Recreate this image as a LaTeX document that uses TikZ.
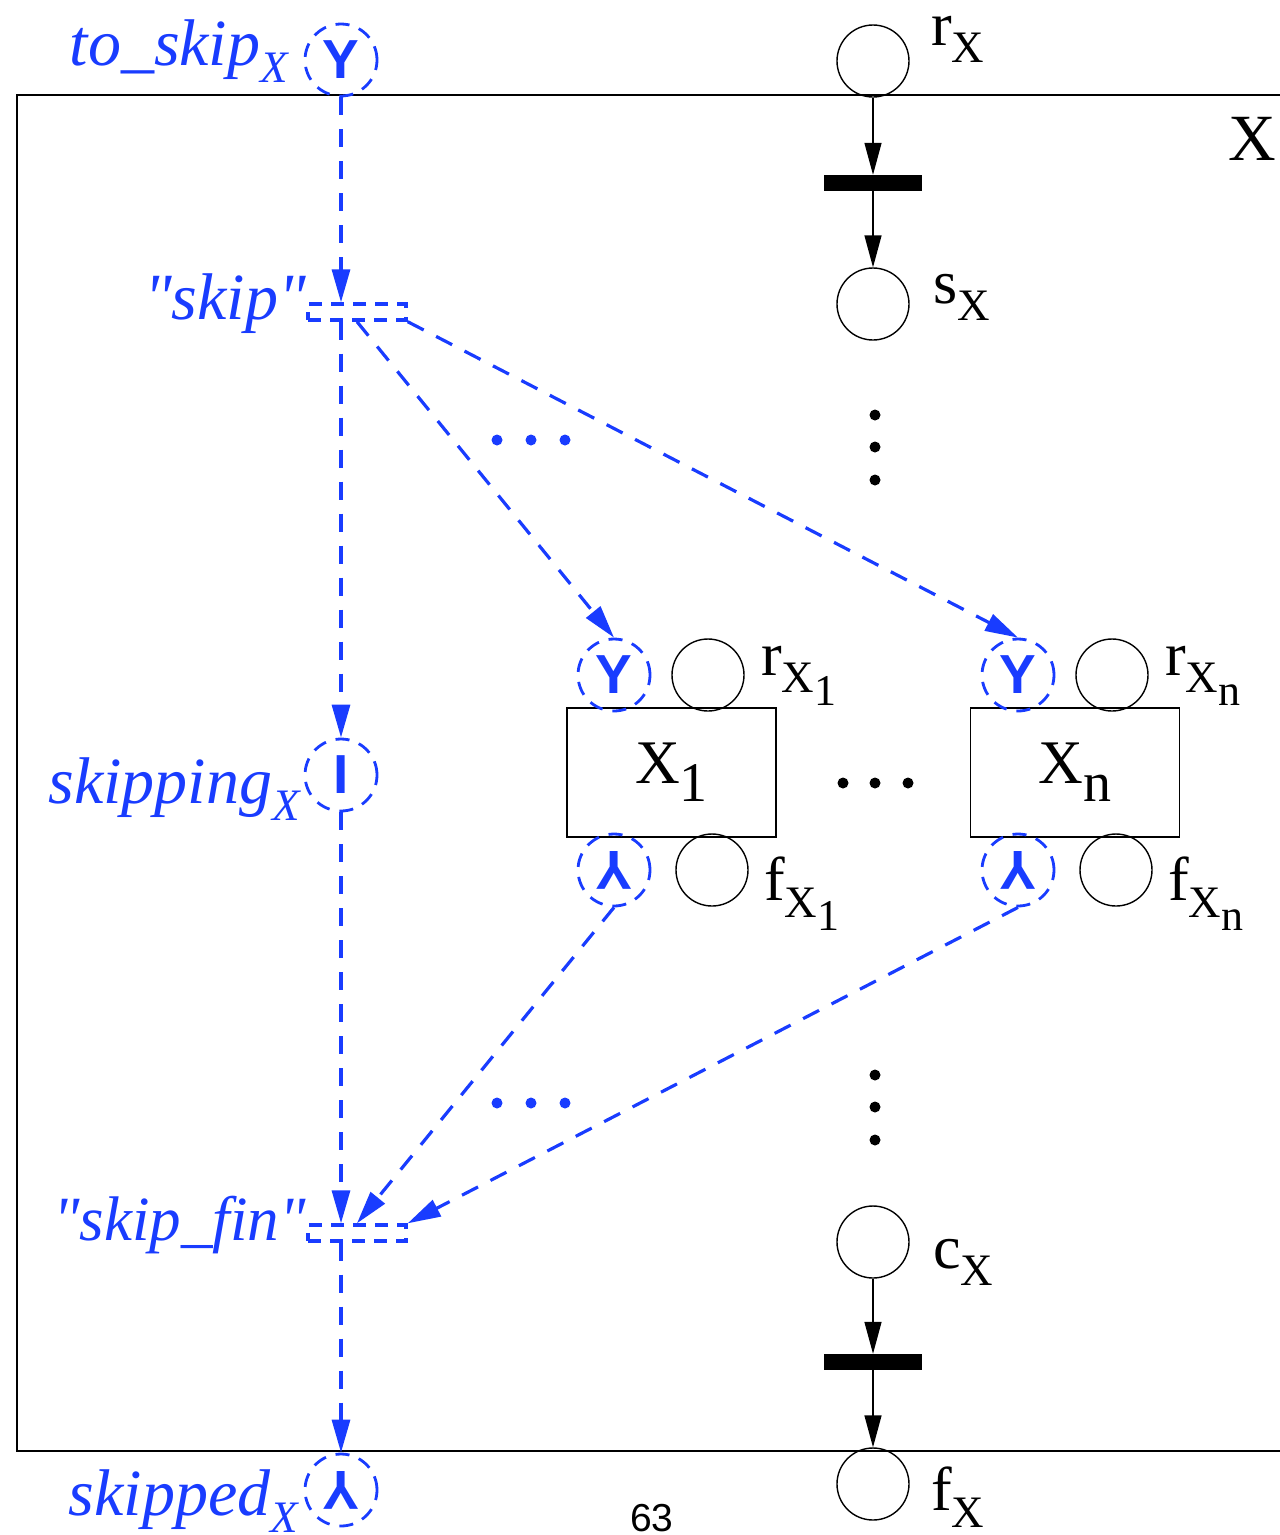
\documentclass[tikz,border=0pt]{standalone}
\usepackage{fontspec}
\setmainfont{Liberation Serif}[Ligatures=TeXOff]
\newfontfamily\symfont{Liberation Sans}
\newfontfamily\pagefont{Liberation Sans}
\usetikzlibrary{arrows.meta,calc}
\definecolor{pblue}{RGB}{25,60,255}
\newcommand\lsub[1]{\raisebox{-17pt}{\fontsize{45}{45}\selectfont #1}}
\newcommand\llsub[1]{\raisebox{-13pt}{\fontsize{44}{44}\selectfont #1}}
\newcommand\bsub[1]{\raisebox{-18pt}{\fontsize{56}{56}\selectfont #1}}
\begin{document}
\begin{tikzpicture}[x=1pt,y=-1pt,
  place/.style={circle,draw,line width=1.4pt,minimum size=72pt,inner sep=0pt},
  bplace/.style={circle,draw=pblue,line width=2.8pt,dash pattern=on 14pt off 10pt,minimum size=72pt,inner sep=0pt,text=pblue,font=\fontsize{55}{55}\symfont\bfseries},
  trans/.style={rectangle,fill=black,minimum width=98pt,minimum height=16pt,inner sep=0pt},
  btrans/.style={rectangle,draw=pblue,line width=3.4pt,dash pattern=on 13pt off 9pt,minimum width=98pt,minimum height=16pt,inner sep=0pt},
  subbox/.style={rectangle,draw,line width=1.4pt,minimum width=209pt,minimum height=129pt,inner sep=0pt,font=\fontsize{62}{62}\selectfont},
  arr/.style={-{Triangle[length=32pt,width=17pt]},line width=1.4pt},
  barr/.style={-{Triangle[length=33pt,width=18pt]},draw=pblue,line width=3.2pt,dash pattern=on 18pt off 14pt},
  lbl/.style={inner sep=0pt,font=\fontsize{62}{62}\selectfont},
  blbl/.style={inner sep=0pt,text=pblue,font=\fontsize{66}{66}\selectfont\itshape},
  dot/.style={circle,fill,minimum size=11pt,inner sep=0pt},
  bdot/.style={dot,fill=pblue}]
\useasboundingbox (0,0) rectangle (1280,1535);
% outer frame
\draw[line width=1.4pt] (1285,95) -- (17,95) -- (17,1451) -- (1285,1451);
\node[lbl,anchor=base east,font=\fontsize{66}{66}\selectfont] (Xlab) at (1276,160) {X};

% right column (black)
\node[place] (rX) at (873,61) {};
\node[lbl,anchor=base west] (rXl) at (931,45) {r\lsub{X}};
\node[trans] (t1) at (873,183) {};
\node[place] (sX) at (873,304) {};
\node[lbl,anchor=base west] (sXl) at (933,303) {s\lsub{X}};
\node[dot] (d1) at (875,415) {};
\node[dot] (d2) at (875,447) {};
\node[dot] (d3) at (875,480) {};
\node[dot] (d4) at (875,1075) {};
\node[dot] (d5) at (875,1107) {};
\node[dot] (d6) at (875,1140) {};
\node[place] (cX) at (873,1242) {};
\node[lbl,anchor=base west] (cXl) at (933,1268) {c\lsub{X}};
\node[trans] (t2) at (873,1362) {};
\node[place] (fX) at (873,1484) {};
\node[lbl,anchor=base west] (fXl) at (931,1510) {f\lsub{X}};
\draw[arr] (rX.south) -- (t1.north);
\draw[arr] (t1.south) -- (sX.north);
\draw[arr] (cX.south) -- (t2.north);
\draw[arr] (t2.south) -- (fX.north);

% sub-boxes
\node[subbox] (X1) at (671.5,772.5) {X\bsub{1}};
\node[subbox] (Xn) at (1075,772.5) {X\bsub{n}};
\node[dot] (h1) at (843,783) {};
\node[dot] (h2) at (875,783) {};
\node[dot] (h3) at (908,783) {};
\node[place] (r1) at (708,675) {};
\node[place] (f1) at (712,870) {};
\node[place] (rn) at (1112,675) {};
\node[place] (fn) at (1116,870) {};
\node[lbl,anchor=base west] (r1l) at (761,675) {r\lsub{X\llsub{1}}};
\node[lbl,anchor=base west] (f1l) at (764,900) {f\lsub{X\llsub{1}}};
\node[lbl,anchor=base west] (rnl) at (1165,675) {r\lsub{X\llsub{n}}};
\node[lbl,anchor=base west] (fnl) at (1168,900) {f\lsub{X\llsub{n}}};
\node[bplace] (y1) at (614,675) {Y};
\node[bplace] (l1) at (614,870) {\rotatebox[origin=c]{180}{Y}};
\node[bplace] (yn) at (1018,675) {Y};
\node[bplace] (ln) at (1018,870) {\rotatebox[origin=c]{180}{Y}};

% left column (blue)
\node[bplace] (toskip) at (341,60) {Y};
\node[blbl,anchor=base east] (toskipl) at (288,65) {to\_skip\lsub{X}};
\node[btrans] (skip) at (357,312) {};
\node[blbl,anchor=base east] (skipl) at (306,319) {"skip"};
\node[bplace] (sking) at (341,775) {I};
\node[blbl,anchor=base east] (skingl) at (300,803) {skipping\lsub{X}};
\node[btrans] (skipfin) at (357,1233) {};
\node[blbl,anchor=base east,font=\fontsize{63}{63}\selectfont\itshape] (skipfinl) at (306,1240) {"skip\_fin"};
\node[bplace] (skd) at (341,1490) {\rotatebox[origin=c]{180}{Y}};
\node[blbl,anchor=base east] (skdl) at (298,1515) {skipped\lsub{X}};

\node[bdot] (b1) at (497,440) {};
\node[bdot] (b2) at (531,440) {};
\node[bdot] (b3) at (565,440) {};
\node[bdot] (b4) at (497,1103) {};
\node[bdot] (b5) at (531,1103) {};
\node[bdot] (b6) at (565,1103) {};

\draw[barr] (toskip.south) -- (toskip.south |- skip.north);
\draw[barr] (skip.south -| sking) -- (sking.north);
\draw[barr] (skip.south) -- (y1.north);
\draw[barr] (skip.south east) -- (yn.north);
\draw[barr] (sking.south) -- (sking.south |- skipfin.north);
\draw[barr] (l1.south) -- (skipfin.north);
\draw[barr] (ln.south) -- (skipfin.north east);
\draw[barr] (skipfin.south -| skd) -- (skd.north);

\node[font=\fontsize{39}{39}\pagefont] (pg) at (652,1518) {63};
\end{tikzpicture}
\end{document}
